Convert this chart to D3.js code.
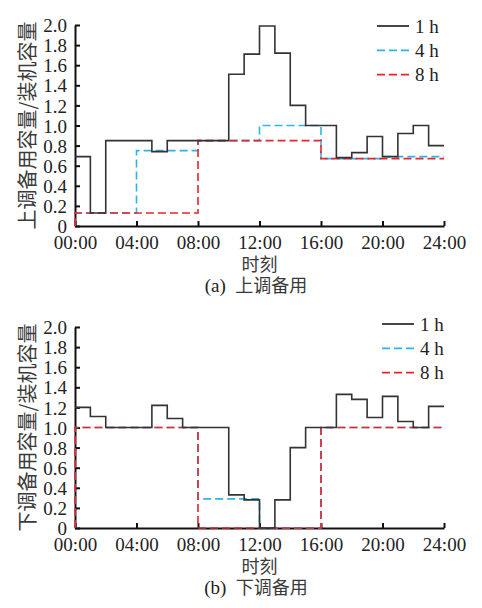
<!DOCTYPE html>
<html>
<head>
<meta charset="utf-8">
<script src="https://cdn.jsdelivr.net/npm/d3@7"></script>
<style>
  body { margin: 0; background: #fff; }
  .cjk { font-family: "Noto Sans CJK SC", sans-serif; fill: #3a3a3a; }
  .serif { font-family: "Liberation Serif", serif; fill: #222; }
</style>
</head>
<body>
<div id="chart"></div>
<script>
// values (per unit of installed capacity)
var tickHours = [0, 4, 8, 12, 16, 20, 24];
var tickNames = ["00:00", "04:00", "08:00", "12:00", "16:00", "20:00", "24:00"];
var yTicks = [0, 0.2, 0.4, 0.6, 0.8, 1.0, 1.2, 1.4, 1.6, 1.8, 2.0];
var seriesNames = ["1 h", "4 h", "8 h"];

var up1h = [0.69, 0.13, 0.85, 0.85, 0.85, 0.74, 0.85, 0.85, 0.85, 0.85, 1.51, 1.71,
            1.99, 1.72, 1.20, 1.00, 1.00, 0.68, 0.73, 0.89, 0.69, 0.92, 1.00, 0.80];
var up4h = [0.13, 0.75, 0.85, 1.00, 0.67, 0.69];
var up8h = [0.13, 0.85, 0.67];

var down1h = [1.20, 1.11, 1.00, 1.00, 1.00, 1.22, 1.09, 1.00, 1.00, 1.00, 0.33, 0.28,
              0.00, 0.28, 0.80, 1.00, 1.00, 1.33, 1.28, 1.10, 1.31, 1.06, 1.00, 1.21];
var down4h = [1.00, 1.00, 0.29, 0.00, 1.00, 1.00];
var down8h = [1.00, 0.00, 1.00];

var svg = d3.select("#chart").append("svg")
  .attr("width", 482)
  .attr("height", 608);

var x = d3.scaleLinear().domain([0, 24]).range([75, 444]);

// styles for 1 h, 4 h, 8 h
var styles = [
  { color: "#333", dash: null, fromZero: false },
  { color: "#2bb5ea", dash: "8,4", fromZero: true },
  { color: "#e8242c", dash: "8,4", fromZero: true }
];

function stepPoints(vals, fromZero) {
  var step = 24 / vals.length;
  var pts = fromZero ? [[0, 0]] : [];
  vals.forEach(function(v, i) { pts.push([i * step, v]); });
  pts.push([24, vals[vals.length - 1]]);
  return pts;
}

function drawPanel(top, bottom, series, yLabel, title, legendX, legendY) {
  var y = d3.scaleLinear().domain([0, 2]).range([bottom, top]);
  var g = svg.append("g");

  var xAxis = g.append("g")
    .attr("transform", `translate(0, ${bottom})`)
    .call(d3.axisBottom(x).tickValues(tickHours)
      .tickFormat((d, i) => tickNames[i])
      .tickSizeInner(-5).tickSizeOuter(0).tickPadding(10));

  var yAxis = g.append("g")
    .attr("transform", `translate(75, 0)`)
    .call(d3.axisLeft(y).tickValues(yTicks)
      .tickFormat(d => d === 0 ? "0" : d3.format(".1f")(d))
      .tickSizeInner(-5).tickSizeOuter(0).tickPadding(8));

  [xAxis, yAxis].forEach(function(a) {
    a.attr("font-family", "'Liberation Serif', serif").attr("font-size", 19);
    a.select(".domain").attr("stroke", "#111").attr("stroke-width", 2);
    a.selectAll(".tick line").attr("stroke", "#111").attr("stroke-width", 2);
    a.selectAll(".tick text").attr("fill", "#222");
  });
  yAxis.selectAll(".tick text").attr("dy", "0.35em");

  var line = d3.line()
    .x(d => x(d[0]))
    .y(d => y(d[1]))
    .curve(d3.curveStepAfter);

  // 4 h under 8 h, 1 h on top
  [1, 2, 0].forEach(function(k) {
    g.append("path")
      .attr("d", line(stepPoints(series[k], styles[k].fromZero)))
      .attr("fill", "none")
      .attr("stroke", styles[k].color)
      .attr("stroke-width", 1.6)
      .attr("stroke-dasharray", styles[k].dash);
  });

  g.append("text")
    .attr("class", "cjk")
    .attr("transform", `translate(35, ${(top + bottom) / 2}) rotate(-90)`)
    .attr("text-anchor", "middle")
    .attr("font-size", 20)
    .text(yLabel);

  g.append("text")
    .attr("class", "cjk")
    .attr("x", 259.5)
    .attr("y", bottom + 45)
    .attr("text-anchor", "middle")
    .attr("font-size", 18)
    .text("时刻");

  var t = g.append("text")
    .attr("x", 256)
    .attr("y", bottom + 66)
    .attr("text-anchor", "middle")
    .attr("font-size", 18);
  t.append("tspan").attr("class", "serif").attr("font-size", 19).text(title[0] + "\u00a0\u00a0");
  t.append("tspan").attr("class", "cjk").text(title[1]);

  // legend
  seriesNames.forEach(function(name, k) {
    var ly = legendY + k * 24.3;
    g.append("line")
      .attr("x1", legendX).attr("x2", legendX + 32)
      .attr("y1", ly).attr("y2", ly)
      .attr("stroke", styles[k].color)
      .attr("stroke-width", 1.8)
      .attr("stroke-dasharray", styles[k].dash);
    g.append("text")
      .attr("class", "serif")
      .attr("x", legendX + 38)
      .attr("y", ly)
      .attr("dy", "0.35em")
      .attr("font-size", 19)
      .text(name);
  });
}

drawPanel(25, 226, [up1h, up4h, up8h], "上调备用容量/装机容量", ["(a)", "上调备用"], 377, 26);
drawPanel(327, 528, [down1h, down4h, down8h], "下调备用容量/装机容量", ["(b)", "下调备用"], 382, 324);
</script>
</body>
</html>
